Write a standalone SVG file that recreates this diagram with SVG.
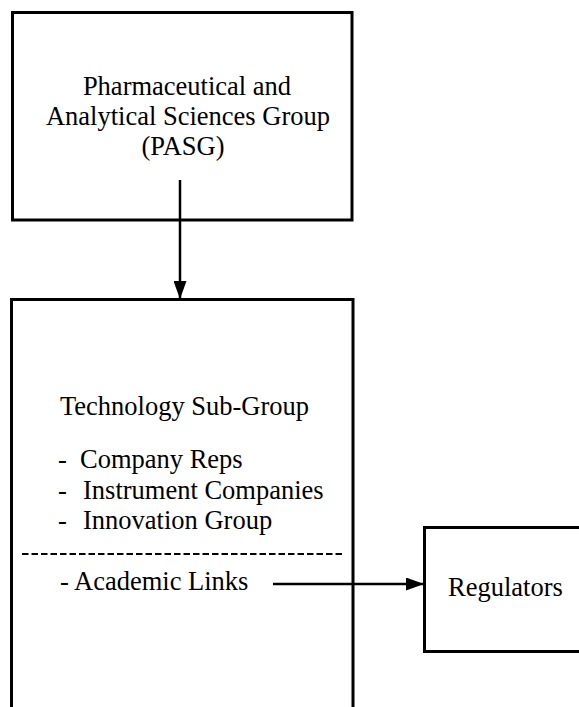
<svg xmlns="http://www.w3.org/2000/svg" width="579" height="707" viewBox="0 0 579 707">
<style>
.box{fill:#fff;stroke:#000;stroke-width:3}
.t{font-family:"Liberation Serif","Times New Roman",serif;font-size:26.5px;fill:#000}
.c{text-anchor:middle}
.conn{stroke:#000;stroke-width:2.5;fill:none}
.sep{stroke:#000;stroke-width:2;stroke-dasharray:6.5 3}
</style>
<defs>
<marker id="ah" markerWidth="18" markerHeight="13" refX="18" refY="6.5" orient="auto" markerUnits="userSpaceOnUse">
<path d="M0,0 L18,6.5 L0,13 Z" fill="#000"/>
</marker>
</defs>
<g id="pasg">
<rect class="box" x="12.5" y="12.5" width="339.5" height="207.5"/>
<text class="t c" x="187" y="95">Pharmaceutical and</text>
<text class="t c" x="188" y="125">Analytical Sciences Group</text>
<text class="t c" x="183" y="155">(PASG)</text>
</g>
<g id="techsub">
<rect class="box" x="11.5" y="299.5" width="341.5" height="420"/>
<text class="t c" x="184.5" y="415">Technology Sub-Group</text>
<text class="t"><tspan x="58" y="468">-</tspan><tspan x="80" y="468">Company Reps</tspan></text>
<text class="t"><tspan x="58" y="499">-</tspan><tspan x="83" y="499">Instrument Companies</tspan></text>
<text class="t"><tspan x="58" y="529">-</tspan><tspan x="83" y="529">Innovation Group</tspan></text>
<line class="sep" x1="22" y1="554" x2="345" y2="554"/>
<text class="t"><tspan x="60" y="590">-</tspan><tspan x="74" y="590">Academic Links</tspan></text>
</g>
<g id="regulators">
<rect class="box" x="424.5" y="527.5" width="160" height="124"/>
<text class="t" x="448" y="596">Regulators</text>
</g>
<g id="connectors">
<line class="conn" x1="180" y1="180" x2="180" y2="299" marker-end="url(#ah)"/>
<line class="conn" x1="273" y1="584" x2="424" y2="584" marker-end="url(#ah)"/>
</g>
</svg>
